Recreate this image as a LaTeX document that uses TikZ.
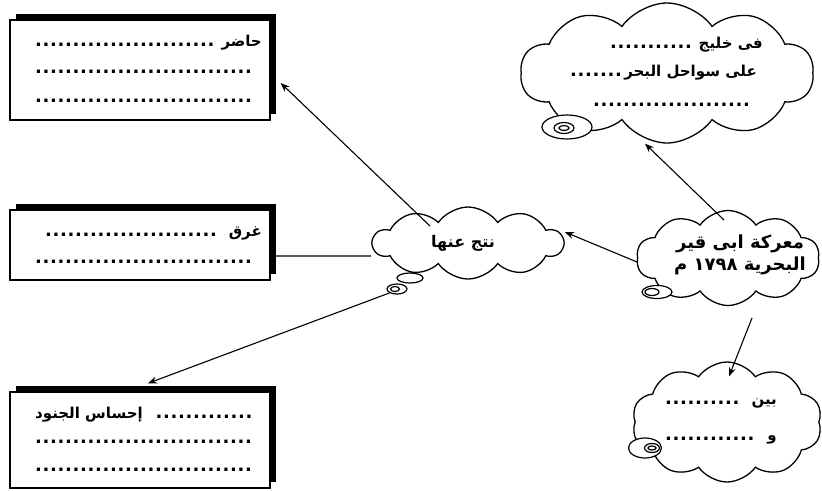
\documentclass[tikz,border=0pt]{standalone}
\usepackage{fontspec}
\newfontfamily\arabicfont[Script=Arabic]{DejaVu Sans}
\TeXXeTstate=1
\usetikzlibrary{shapes.symbols,shapes.geometric,shadows,arrows.meta}

\newcommand{\dotline}{\leaders\hbox to 7.5pt{\hss\fontsize{18}{18}\selectfont.\hss}\hfill}
\newcommand{\ar}[1]{\beginR #1\endR}

\begin{document}
\begin{tikzpicture}[x=1pt,y=-1pt,
  shadowbox/.style={draw, line width=1.4pt, fill=white, minimum width=260pt, inner sep=0pt,
    drop shadow={shadow xshift=6pt, shadow yshift=6pt, fill=black, opacity=1}},
  thought/.style={cloud, draw, line width=1.3pt, fill=white, cloud puffs=10, cloud puff arc=110,
    cloud ignores aspect, inner sep=0pt},
  bubble/.style={ellipse, draw, line width=1.2pt, fill=white, inner sep=0pt},
  ring/.style={ellipse, draw, line width=1.2pt, inner sep=0pt},
  txt/.style={inner sep=0pt, font=\arabicfont\bfseries\fontsize{15}{18}\selectfont},
  link/.style={line width=1.1pt, -{Stealth[length=9pt,width=7pt]}}]
\useasboundingbox (0,0) rectangle (822,490);

% boxes on the left
\node[shadowbox, minimum height=100pt] (hadir) at (140,70) {};
\node[txt, anchor=east] (hadirA) at (262,43) {\hbox to 227pt{\dotline\ \ar{حاضر}}};
\node[txt, anchor=east] (hadirB) at (258,72) {\hbox to 223pt{\dotline}};
\node[txt, anchor=east] (hadirC) at (258,101) {\hbox to 223pt{\dotline}};

\node[shadowbox, minimum height=70pt] (gharaq) at (140,245) {};
\node[txt, anchor=east] (gharaqA) at (262,233) {\hbox to 217pt{\dotline\ \ar{غرق}}};
\node[txt, anchor=east] (gharaqB) at (258,262) {\hbox to 223pt{\dotline}};

\node[shadowbox, minimum height=96pt] (ihsas) at (140,440) {};
\node[txt, anchor=west] (ihsasA) at (35,415) {\hbox to 223pt{\ar{إحساس الجنود}\ \dotline}};
\node[txt, anchor=east] (ihsasB) at (258,442) {\hbox to 223pt{\dotline}};
\node[txt, anchor=east] (ihsasC) at (258,470) {\hbox to 223pt{\dotline}};

% clouds
\node[thought, minimum width=293pt, minimum height=140pt] (khalij) at (667,73) {};
\node[bubble, minimum width=50pt, minimum height=24pt] (khalijBub) at (567,127) {};
\node[ring, minimum width=20pt, minimum height=11pt] (khalijRing) at (564,128) {};
\node[ring, minimum width=10pt, minimum height=5pt] (khalijDot) at (564,128) {};
\node[txt, anchor=east] (khalijA) at (763,45) {\hbox to 153pt{\dotline\ \ar{فى خليج}}};
\node[txt, anchor=east] (khalijB) at (757,73) {\hbox to 187pt{\dotline\ar{على سواحل البحر}}};
\node[txt, anchor=east] (khalijC) at (753,105) {\hbox to 160pt{\dotline}};

\node[thought, minimum width=190pt, minimum height=72pt] (natij) at (468,243) {};
\node[txt, font=\arabicfont\bfseries\fontsize{16}{19}\selectfont] (natijT) at (463,243) {\ar{نتج عنها}};
\node[bubble, minimum width=26pt, minimum height=10pt] (natijBub) at (410,278) {};
\node[bubble, minimum width=20pt, minimum height=10pt] (natijBubB) at (397,289) {};
\node[ring, minimum width=9pt, minimum height=5pt] (natijRing) at (395,289) {};

\node[thought, minimum width=183pt, minimum height=95pt] (maaraka) at (728,258) {};
\node[txt, font=\arabicfont\bfseries\fontsize{18}{22}\selectfont, align=center] (maarakaT) at (740,255)
  {\ar{معركة ابى قير}\\ \ar{البحرية \beginL١٧٩٨\endL{} م}};
\node[bubble, minimum width=30pt, minimum height=13pt] (maarakaBub) at (657,292) {};
\node[ring, minimum width=14pt, minimum height=7pt] (maarakaRing) at (652,292) {};

\node[thought, minimum width=190pt, minimum height=120pt] (bayn) at (727,422) {};
\node[bubble, minimum width=33pt, minimum height=20pt] (baynBub) at (645,448) {};
\node[ring, minimum width=15pt, minimum height=9pt] (baynRing) at (652,448) {};
\node[ring, minimum width=8pt, minimum height=4pt] (baynDot) at (652,448) {};
\node[txt, anchor=east] (baynA) at (777,403) {\hbox to 112pt{\dotline\ \ar{بين}}};
\node[txt, anchor=east] (baynB) at (777,440) {\hbox to 112pt{\dotline\ \ar{و}}};

% connectors
\coordinate (natijIn) at (430,226);
\draw[link] (natijIn) -- ([xshift=10pt,yshift=-13pt]hadir.east);
\draw[line width=1.1pt] ([yshift=-11pt]gharaq.east) -- ([yshift=-13pt]natij.west);
\draw[link] (natijBubB.south west) -- ([xshift=8pt,yshift=8pt]ihsas.north);
\draw[link] ([yshift=-4pt]maaraka.west) -- ([yshift=11pt]natij.east);
\coordinate (maarakaIn) at (724,220);
\draw[link] (maarakaIn) -- ([xshift=-22pt]khalij.south);
\coordinate (maarakaOut) at (752,318);
\draw[link] (maarakaOut) -- ([xshift=2pt,yshift=-15pt]bayn.north);
\end{tikzpicture}
\end{document}
